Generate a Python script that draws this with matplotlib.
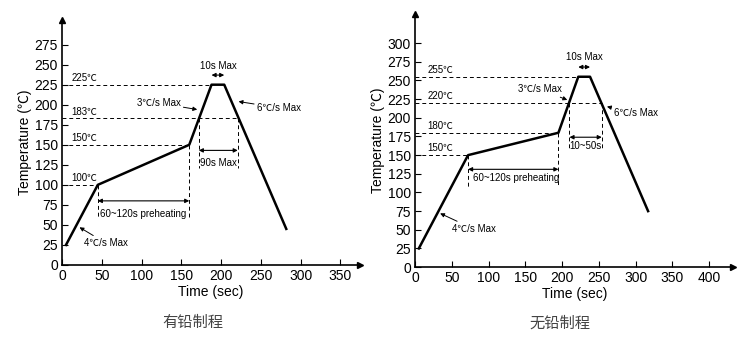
import numpy as np
import matplotlib.pyplot as plt

plt.rcParams['font.family'] = ['Liberation Sans', 'Noto Sans CJK SC', 'DejaVu Sans']

# --- leaded profile (有铅制程) ---
pb_time = [5, 45, 160, 188, 204, 282]
pb_temp = [25, 100, 150, 225, 225, 45]
pb_levels = [225, 183, 150, 100]
pb_level_ends = [188, 222, 160, 45]
pb_yticks = np.arange(0, 276, 25)
pb_xticks = np.arange(0, 351, 50)

# --- lead-free profile (无铅制程) ---
pf_time = [5, 72, 195, 222, 238, 317]
pf_temp = [25, 150, 180, 255, 255, 75]
pf_levels = [255, 220, 180, 150]
pf_level_ends = [222, 254, 195, 72]
pf_yticks = np.arange(0, 301, 25)
pf_xticks = np.arange(0, 401, 50)

FS_ANN = 7
ARR = dict(arrowstyle='-|>', color='black', lw=0.7, mutation_scale=6,
           shrinkA=0, shrinkB=0)
DARR = dict(arrowstyle='<|-|>', color='black', lw=0.8, mutation_scale=6,
            shrinkA=0, shrinkB=0)
DASH = dict(color='black', lw=0.7, ls=(0, (4, 3)), zorder=1)


def setup_axes(ax, xmax, ymax, xticks, yticks):
    ax.set_xlim(0, xmax)
    ax.set_ylim(0, ymax)
    for s in ['top', 'right']:
        ax.spines[s].set_visible(False)
    for s in ['left', 'bottom']:
        ax.spines[s].set_linewidth(1.2)
    ax.set_xticks(xticks)
    ax.set_yticks(yticks)
    ax.tick_params(direction='in', length=4, width=0.8, labelsize=10, pad=3)
    ax.plot(1, 0, '>k', ms=4, transform=ax.get_yaxis_transform(), clip_on=False)
    ax.plot(0, 1, '^k', ms=4, transform=ax.get_xaxis_transform(), clip_on=False)
    ax.set_xlabel('Time (sec)', fontsize=10, labelpad=1)
    ax.set_ylabel('Temperature (℃)', fontsize=10, labelpad=2)


def level_lines(ax, levels, ends, label_x, dy):
    for lv, xe in zip(levels, ends):
        ax.plot([0, xe], [lv, lv], **DASH)
        ax.text(label_x, lv + dy, f'{lv}℃', fontsize=FS_ANN, ha='left', va='bottom')


fig = plt.figure(figsize=(7.4, 3.6), dpi=100)

# ---------------- left chart ----------------
ax1 = fig.add_axes([0.0838, 0.264, 0.403, 0.681])
setup_axes(ax1, 375, 306, pb_xticks, pb_yticks)
ax1.plot(pb_time, pb_temp, color='black', lw=1.8, zorder=3)
level_lines(ax1, pb_levels, pb_level_ends, 12, 2)

# preheating span
ax1.plot([45, 45], [100, 60], **DASH)
ax1.plot([160, 160], [150, 60], **DASH)
ax1.annotate('', xy=(45, 80), xytext=(160, 80), arrowprops=DARR)
ax1.text(48, 64, '60~120s preheating', fontsize=FS_ANN, ha='left', va='center')

# 90s Max span
ax1.plot([172, 172], [183, 121], **DASH)
ax1.plot([221, 221], [183, 121], **DASH)
ax1.annotate('', xy=(172, 143), xytext=(221, 143), arrowprops=DARR)
ax1.text(196.5, 127, '90s Max', fontsize=FS_ANN, ha='center', va='center')

# 10s Max
ax1.annotate('', xy=(188, 237), xytext=(204, 237), arrowprops=DARR)
ax1.text(196, 248, '10s Max', fontsize=FS_ANN, ha='center', va='center')

ax1.annotate('3℃/s Max', xy=(170, 194), xytext=(94, 202), fontsize=FS_ANN,
             va='center', arrowprops=ARR)
ax1.annotate('6℃/s Max', xy=(222, 204), xytext=(245, 196), fontsize=FS_ANN,
             va='center', arrowprops=ARR)
ax1.annotate('4℃/s Max', xy=(22, 47), xytext=(28, 27), fontsize=FS_ANN,
             va='center', arrowprops=ARR)

fig.text(0.261, 0.103, '有铅制程', fontsize=11, color='#444444',
         ha='center', va='center', family=['Noto Sans CJK SC'])

# ---------------- right chart ----------------
ax2 = fig.add_axes([0.561, 0.258, 0.43, 0.703])
setup_axes(ax2, 433, 339, pf_xticks, pf_yticks)
ax2.plot(pf_time, pf_temp, color='black', lw=1.8, zorder=3)
level_lines(ax2, pf_levels, pf_level_ends, 17, 3)

ax2.plot([72, 72], [150, 107], **DASH)
ax2.plot([195, 195], [180, 107], **DASH)
ax2.annotate('', xy=(72, 131), xytext=(195, 131), arrowprops=DARR)
ax2.text(79, 120, '60~120s preheating', fontsize=FS_ANN, ha='left', va='center')

ax2.plot([210, 210], [220, 157], **DASH)
ax2.plot([254, 254], [220, 157], **DASH)
ax2.annotate('', xy=(210, 174), xytext=(254, 174), arrowprops=DARR)
ax2.text(232, 162, '10~50s', fontsize=FS_ANN, ha='center', va='center')

ax2.annotate('', xy=(222, 268), xytext=(238, 268), arrowprops=DARR)
ax2.text(230, 282, '10s Max', fontsize=FS_ANN, ha='center', va='center')

ax2.annotate('3℃/s Max', xy=(207, 224), xytext=(140, 238), fontsize=FS_ANN,
             va='center', arrowprops=ARR)
ax2.annotate('6℃/s Max', xy=(261, 215), xytext=(270, 206), fontsize=FS_ANN,
             va='center', arrowprops=ARR)
ax2.annotate('4℃/s Max', xy=(34, 72), xytext=(50, 51), fontsize=FS_ANN,
             va='center', arrowprops=ARR)

fig.text(0.757, 0.103, '无铅制程', fontsize=11, color='#444444',
         ha='center', va='center', family=['Noto Sans CJK SC'])

fig.savefig('out.png', dpi=100)
